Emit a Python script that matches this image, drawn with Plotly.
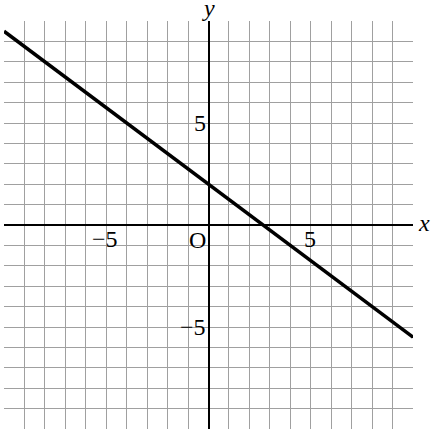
import numpy as np
import plotly.graph_objects as go

# recta y = -3/4 x + 2 en la cuadricula de -10 a 10
x_line = [-10, 10]
y_line = [9.5, -5.5]

x_ticks = [-5, 5]
x_tick_labels = ["−5", "5"]
y_ticks = [5, -5]
y_tick_labels = ["5", "−5"]

fuente = "Liberation Serif"

fig = go.Figure()
fig.add_trace(go.Scatter(x=x_line, y=y_line, mode="lines",
                         line=dict(color="black", width=3.5),
                         hoverinfo="skip", showlegend=False))

ejes = dict(range=[-10, 10], dtick=1, showgrid=True, gridcolor="#a0a0a0",
            gridwidth=1, zeroline=True, zerolinecolor="black",
            zerolinewidth=1.5, showticklabels=False, ticks="",
            showline=False, fixedrange=True)

fig.update_layout(
    width=434, height=430,
    margin=dict(l=4, r=21, t=21, b=1),
    plot_bgcolor="white", paper_bgcolor="white",
    xaxis=ejes, yaxis=ejes,
    font=dict(family=fuente, size=24, color="black"),
)

# etiquetas de los ejes
for xv, txt in zip(x_ticks, x_tick_labels):
    fig.add_annotation(x=xv, y=0, text=txt, showarrow=False,
                       yanchor="top", yshift=1, xshift=-1)
for yv, txt in zip(y_ticks, y_tick_labels):
    fig.add_annotation(x=0, y=yv, text=txt, showarrow=False,
                       xanchor="right", xshift=-1)
fig.add_annotation(x=0, y=0, text="O", showarrow=False,
                   xanchor="right", yanchor="top", xshift=-1, yshift=0)
fig.add_annotation(x=10, y=0, text="<i>x</i>", showarrow=False,
                   xanchor="left", xshift=3, yshift=2)
fig.add_annotation(x=0, y=10, text="<i>y</i>", showarrow=False,
                   yanchor="bottom", yshift=-2)

fig.write_html("out.html", config={"displayModeBar": False},
               post_script="document.body.style.margin='0';")
